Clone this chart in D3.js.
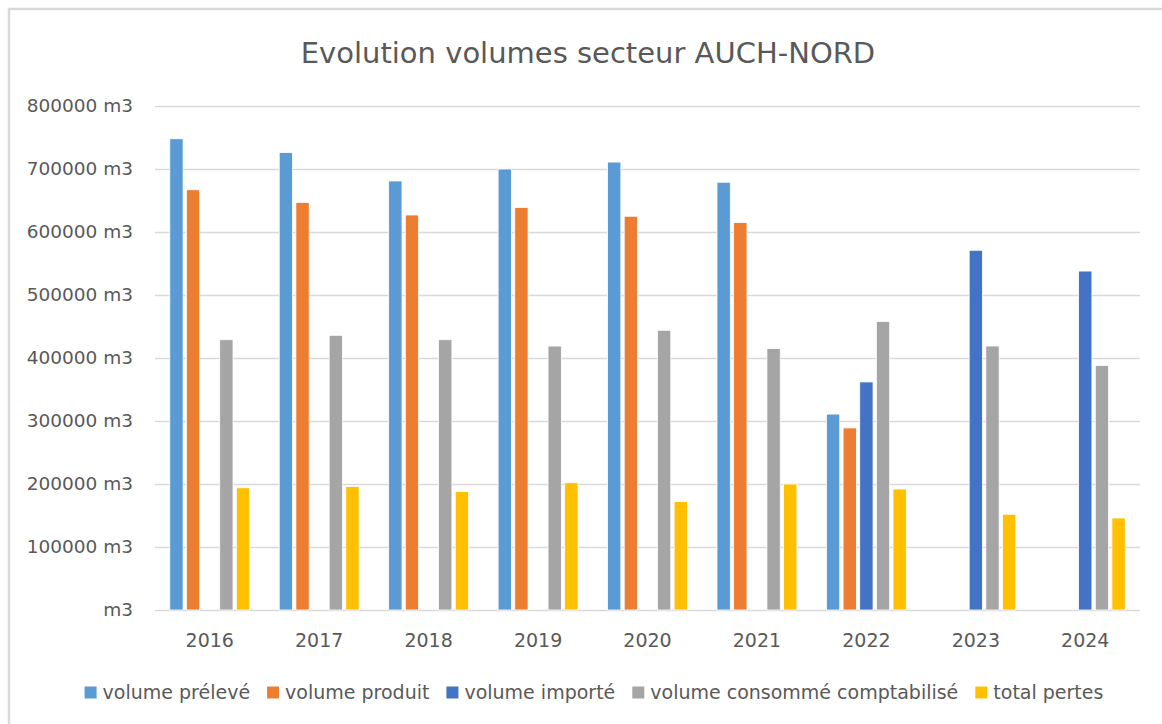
<!DOCTYPE html>
<html>
<head>
<meta charset="utf-8">
<script src="https://cdn.jsdelivr.net/npm/d3@7"></script>
<style>
  body { margin: 0; background: #fff; }
  text { font-family: "DejaVu Sans", sans-serif; fill: #595959; }
</style>
</head>
<body>
<svg id="chart" width="1162" height="724"></svg>
<script>
// données
var years = ["2016", "2017", "2018", "2019", "2020", "2021", "2022", "2023", "2024"];
var volumePreleve = [748000, 726000, 681000, 700000, 711000, 679000, 311000, null, null];
var volumeProduit = [667000, 647000, 627000, 639000, 625000, 615000, 289000, null, null];
var volumeImporte = [null, null, null, null, null, null, 362000, 571000, 538000];
var volumeConsomme = [429000, 436000, 429000, 419000, 444000, 415000, 458000, 419000, 388000];
var totalPertes = [194000, 196000, 188000, 202000, 172000, 200000, 192000, 152000, 146000];
var yTicks = [0, 100000, 200000, 300000, 400000, 500000, 600000, 700000, 800000];

var seriesNames = ["volume prélevé", "volume produit", "volume importé", "volume consommé comptabilisé", "total pertes"];
var seriesValues = [volumePreleve, volumeProduit, volumeImporte, volumeConsomme, totalPertes];
var seriesColors = ["#5B9BD5", "#ED7D31", "#4472C4", "#A5A5A5", "#FFC000"];

var svg = d3.select("#chart");

// cadre du graphique
svg.append("rect")
  .attr("x", 9)
  .attr("y", 9)
  .attr("width", 1300)
  .attr("height", 900)
  .attr("fill", "#fff")
  .attr("stroke", "#d9d9d9")
  .attr("stroke-width", 2.5);

// titre
svg.append("text")
  .attr("x", 588)
  .attr("y", 63)
  .attr("text-anchor", "middle")
  .attr("font-size", "29px")
  .text("Evolution volumes secteur AUCH-NORD");

var plotLeft = 155, plotRight = 1140, plotTop = 106, plotBottom = 610;

var x0 = d3.scaleBand()
  .domain(years)
  .range([plotLeft, plotRight])
  .paddingInner(0.27)
  .paddingOuter(0.135);

var x1 = d3.scaleBand()
  .domain(seriesNames)
  .range([0, x0.bandwidth()])
  .paddingInner(0.2);

var y = d3.scaleLinear()
  .domain([0, 800000])
  .range([plotBottom, plotTop]);

// quadrillage
svg.append("g")
  .selectAll("line")
  .data(yTicks)
  .enter()
  .append("line")
  .attr("x1", plotLeft)
  .attr("x2", plotRight)
  .attr("y1", function(d) { return Math.round(y(d)) + 0.5; })
  .attr("y2", function(d) { return Math.round(y(d)) + 0.5; })
  .attr("stroke", "#d9d9d9")
  .attr("stroke-width", 1.3);

// axe Y
var yAxis = d3.axisLeft(y)
  .tickValues(yTicks)
  .tickSize(0)
  .tickPadding(22)
  .tickFormat(function(d) { return d === 0 ? "m3" : d + " m3"; });

var gy = svg.append("g")
  .attr("transform", "translate(" + plotLeft + ",0)")
  .call(yAxis);
gy.select(".domain").remove();
gy.selectAll("text")
  .attr("font-size", "18.5px")
  .attr("font-family", "DejaVu Sans")
  .attr("fill", "#595959");

// axe X
var xAxis = d3.axisBottom(x0).tickSize(0).tickPadding(24);
var gx = svg.append("g")
  .attr("transform", "translate(0," + plotBottom + ")")
  .call(xAxis);
gx.select(".domain").remove();
gx.selectAll("text")
  .attr("font-size", "19px")
  .attr("font-family", "DejaVu Sans")
  .attr("fill", "#595959");

// barres
var rows = years.map(function(yr, i) {
  return seriesNames.map(function(name, s) {
    return { year: yr, name: name, value: seriesValues[s][i], color: seriesColors[s] };
  });
});

svg.append("g")
  .selectAll("g")
  .data(rows)
  .enter()
  .append("g")
  .attr("transform", function(d, i) { return "translate(" + x0(years[i]) + ",0)"; })
  .selectAll("rect")
  .data(function(d) { return d.filter(function(e) { return e.value != null; }); })
  .enter()
  .append("rect")
  .attr("x", function(d) { return x1(d.name); })
  .attr("width", x1.bandwidth())
  .attr("y", function(d) { return y(d.value); })
  .attr("height", function(d) { return y(0) - y(d.value); })
  .attr("fill", function(d) { return d.color; })
  .attr("stroke", "#fff")
  .attr("stroke-width", 0.8);

// légende
var legend = svg.append("g").attr("class", "legend");
var pos = 0;
seriesNames.forEach(function(name, i) {
  var item = legend.append("g").attr("transform", "translate(" + pos + ",0)");
  item.append("rect")
    .attr("x", 0)
    .attr("y", -12.5)
    .attr("width", 12)
    .attr("height", 12)
    .attr("fill", seriesColors[i]);
  var t = item.append("text")
    .attr("x", 18)
    .attr("y", 0)
    .attr("font-size", "19px")
    .text(name);
  pos += 18 + t.node().getComputedTextLength() + 17;
});
var legendWidth = pos - 17;
legend.attr("transform", "translate(" + (594 - legendWidth / 2) + ",699)");
</script>
</body>
</html>
